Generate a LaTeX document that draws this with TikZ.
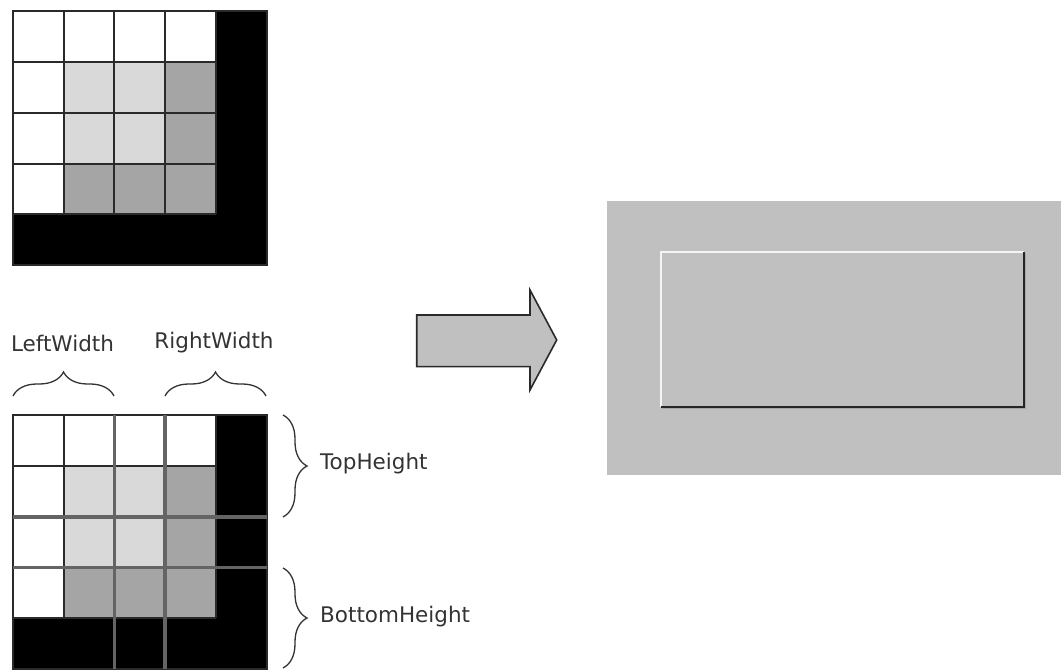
\documentclass[tikz,border=0pt]{standalone}
\usepackage{fontspec}
\setmainfont{DejaVu Sans}
\usetikzlibrary{decorations.pathreplacing}
\definecolor{celllight}{RGB}{217,217,217}
\definecolor{celldark}{RGB}{165,165,165}
\definecolor{panelgray}{RGB}{192,192,192}
\definecolor{linegray}{RGB}{42,42,42}
\definecolor{splitgray}{RGB}{100,100,100}
\definecolor{labelgray}{RGB}{51,51,51}

\begin{document}
\begin{tikzpicture}[x=1pt,y=1pt,
  lbl/.style={font=\fontsize{21.5}{26}\selectfont,text=labelgray,inner sep=0pt},
  brc/.style={decorate,decoration={brace,amplitude=24pt},line width=1.3pt,draw=labelgray}]
  \useasboundingbox (0,0) rectangle (1061,671);
  % both grids, 5x5 cells
  \foreach \gy in {406,2}{
  \begin{scope}[shift={(13,\gy)},x=50.7pt,y=50.7pt]
    \fill[black] (0,0) rectangle (5,5);
    \fill[white] (0,1) rectangle (4,5);
    \fill[celllight] (1,2) rectangle (3,4);
    \fill[celldark] (3,2) rectangle (4,4);
    \fill[celldark] (1,1) rectangle (4,2);
    \foreach \t in {1,2,3,4}{
      \draw[linegray,line width=2pt] (\t,1)--(\t,5);
      \draw[linegray,line width=2pt] (0,\t)--(4,\t);}
    \draw[linegray,line width=2pt] (0,0) rectangle (5,5);
  \end{scope}}
  % splitting lines on the lower grid
  \begin{scope}[shift={(13,2)},x=50.7pt,y=50.7pt]
    \foreach \t in {2,3}{
      \draw[splitgray,line width=3.5pt] (\t,0)--(\t,5);
      \draw[splitgray,line width=3.5pt] (0,\t)--(5,\t);}
  \end{scope}
  % braces and labels
  \draw[brc] (13,275)--(114,275);
  \draw[brc] (165,275)--(266,275);
  \draw[brc] (283,256)--(283,154);
  \draw[brc] (283,103)--(283,3);
  \node[lbl] (leftw) at (62.5,328) {LeftWidth};
  \node[lbl] (rightw) at (214,328) {RightWidth};
  \node[lbl,anchor=west] (toph) at (320,207) {TopHeight};
  \node[lbl,anchor=west] (both) at (320,54) {BottomHeight};
  % block arrow
  \draw[fill=panelgray,draw=linegray,line width=1.6pt,line join=miter]
    (416.7,356)--(530,356)--(530,381)--(556.7,331)--(530,281)--(530,304.3)--(416.7,304.3)--cycle;
  % result panel
  \fill[panelgray] (606.7,196) rectangle (1061,470.3);
  \draw[gray!70,line width=1.2pt] (1025.8,418) -- (1025.8,262.5) -- (662,262.5);
  \draw[white!92!gray,line width=2pt] (660.7,264.3) -- (660.7,419.3) -- (1024,419.3);
  \draw[black!85,line width=2pt] (1024,419.3) -- (1024,264.3) -- (660.7,264.3);
\end{tikzpicture}
\end{document}
